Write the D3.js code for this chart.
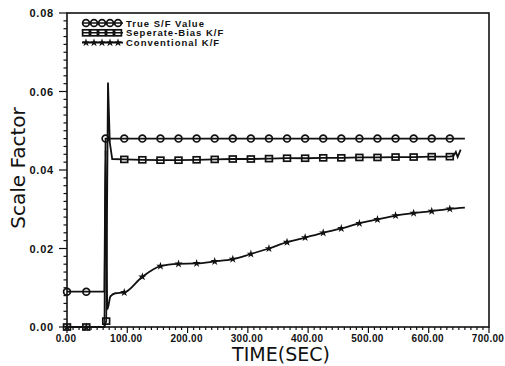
<!DOCTYPE html>
<html>
<head>
<meta charset="utf-8">
<script src="https://cdn.jsdelivr.net/npm/d3@7"></script>
<style>
  body { margin: 0; background: #fff; }
  text { fill: #111; }
</style>
</head>
<body>
<svg id="chart" width="505" height="366"></svg>
<script>
// marker times after the jump (sec)
var markTimes = [95, 125, 155, 185, 215, 245, 275, 305, 335, 365, 395, 425, 455, 485, 515, 545, 575, 605, 635];

var trueVals = [0.048, 0.048, 0.048, 0.048, 0.048, 0.048, 0.048, 0.048, 0.048, 0.048,
                0.048, 0.048, 0.048, 0.048, 0.048, 0.048, 0.048, 0.048, 0.048];
var sepVals  = [0.0427, 0.0426, 0.0425, 0.0425, 0.0426, 0.0427, 0.0428, 0.0428, 0.0429, 0.0430,
                0.0430, 0.0431, 0.0431, 0.0432, 0.0432, 0.0433, 0.0433, 0.0434, 0.0434];
var convVals = [0.0088, 0.0128, 0.0155, 0.0161, 0.0162, 0.0167, 0.0173, 0.0186, 0.0200, 0.0216,
                0.0228, 0.0240, 0.0251, 0.0264, 0.0274, 0.0284, 0.0290, 0.0295, 0.0301];

// start of each run, around the jump at ~63 sec: [t, value, marker]
var trueStart = [[0, 0.009, 1], [32, 0.009, 1], [62, 0.009, 0], [64, 0.048, 1]];
var sepStart  = [[0, 0, 1], [32, 0, 1], [62, 0, 0], [65, 0.0015, 1], [68, 0.0623, 0], [71, 0.047, 0], [75, 0.0428, 0]];
var convStart = [[0, 0, 1], [32, 0, 1], [62, 0, 0], [64, 0.045, 0], [67, 0.0045, 0], [72, 0.0078, 0], [80, 0.0086, 0]];

// end of each run
var trueEnd = [[660, 0.048, 0]];
var sepEnd  = [[641, 0.0436, 0], [645, 0.0446, 0], [648, 0.0433, 0], [653, 0.0452, 0]];
var convEnd = [[660, 0.0304, 0]];

var legendNames = ["True S/F Value", "Seperate-Bias K/F", "Conventional K/F"];
var xTicks = [0, 100, 200, 300, 400, 500, 600, 700];
var yTicks = [0, 0.02, 0.04, 0.06, 0.08];

function buildSeries(start, vals, end) {
  var mid = markTimes.map(function(t, i) { return [t, vals[i], 1]; });
  return start.concat(mid).concat(end);
}

var series = [
  { name: legendNames[0], pts: buildSeries(trueStart, trueVals, trueEnd), mark: "circle", curve: d3.curveLinear },
  { name: legendNames[1], pts: buildSeries(sepStart, sepVals, sepEnd), mark: "square", curve: d3.curveLinear },
  { name: legendNames[2], pts: buildSeries(convStart, convVals, convEnd), mark: "star", curve: d3.curveMonotoneX }
];

var svg = d3.select("#chart");
var x = d3.scaleLinear().domain([0, 700]).range([67, 489]);
var y = d3.scaleLinear().domain([0, 0.08]).range([327, 13]);

var ink = "#111";
var tickFont = "Liberation Sans, Arial, sans-serif";
var titleFont = "DejaVu Sans, sans-serif";

// frame
svg.append("rect")
  .attr("x", x(0)).attr("y", y(0.08))
  .attr("width", x(700) - x(0)).attr("height", y(0) - y(0.08))
  .attr("fill", "none").attr("stroke", ink).attr("stroke-width", 1.6);

// x axis with minor ticks
var xMinor = d3.range(0, 701, 10);
svg.append("g").selectAll("line").data(xMinor).join("line")
  .attr("x1", function(d) { return x(d); }).attr("x2", function(d) { return x(d); })
  .attr("y1", y(0)).attr("y2", function(d) { return y(0) + (d % 100 === 0 ? 6 : 3); })
  .attr("stroke", ink).attr("stroke-width", 1.2);

svg.append("g").selectAll("text").data(xTicks).join("text")
  .attr("x", function(d) { return x(d) - 1; })
  .attr("y", 342)
  .attr("text-anchor", "middle")
  .attr("font-family", tickFont).attr("font-weight", "bold").attr("font-size", 10)
  .attr("letter-spacing", 0.3)
  .text(function(d) { return d3.format(".2f")(d); });

// y axis with minor ticks
var yMinor = d3.range(0, 41).map(function(i) { return i * 0.002; });
svg.append("g").selectAll("line").data(yMinor).join("line")
  .attr("y1", function(d) { return y(d); }).attr("y2", function(d) { return y(d); })
  .attr("x1", x(0)).attr("x2", function(d, i) { return x(0) - (i % 10 === 0 ? 8 : 3.5); })
  .attr("stroke", ink).attr("stroke-width", 1.2);

svg.append("g").selectAll("text").data(yTicks).join("text")
  .attr("x", 54)
  .attr("y", function(d) { return y(d) + 4; })
  .attr("text-anchor", "end")
  .attr("font-family", tickFont).attr("font-weight", "bold").attr("font-size", 11)
  .attr("letter-spacing", 0.8)
  .text(function(d) { return d3.format(".2f")(d); });

// axis titles
svg.append("text")
  .attr("x", 281).attr("y", 361)
  .attr("text-anchor", "middle")
  .attr("font-family", titleFont).attr("font-size", 19)
  .text("TIME(SEC)");

svg.append("text")
  .attr("transform", "translate(25,168) rotate(-90)")
  .attr("text-anchor", "middle")
  .attr("font-family", titleFont).attr("font-size", 20)
  .text("Scale  Factor");

// markers
function drawMarker(g, kind, cx, cy) {
  if (kind === "circle") {
    g.append("circle").attr("cx", cx).attr("cy", cy).attr("r", 3.4)
      .attr("fill", "none").attr("stroke", ink).attr("stroke-width", 1.7);
  } else if (kind === "square") {
    g.append("rect").attr("x", cx - 3.4).attr("y", cy - 3).attr("width", 6.8).attr("height", 6)
      .attr("fill", "none").attr("stroke", ink).attr("stroke-width", 1.7);
  } else {
    g.append("path").attr("transform", "translate(" + cx + "," + cy + ")")
      .attr("d", d3.symbol().type(d3.symbolStar).size(22)())
      .attr("fill", ink);
  }
}

series.forEach(function(s) {
  var g = svg.append("g");
  var line = d3.line()
    .x(function(d) { return x(d[0]); })
    .y(function(d) { return y(d[1]); })
    .curve(s.curve);
  g.append("path").datum(s.pts)
    .attr("d", line)
    .attr("fill", "none").attr("stroke", ink).attr("stroke-width", 1.8);
  s.pts.forEach(function(p) {
    if (p[2]) drawMarker(g, s.mark, x(p[0]), y(p[1]));
  });
});

// legend
var legend = svg.append("g");
series.forEach(function(s, i) {
  var ly = 23 + i * 9.8;
  legend.append("line")
    .attr("x1", 82).attr("x2", 123).attr("y1", ly).attr("y2", ly)
    .attr("stroke", ink).attr("stroke-width", 1.6);
  d3.range(5).forEach(function(k) {
    drawMarker(legend, s.mark, 86 + k * 8, ly);
  });
  legend.append("text")
    .attr("x", 126).attr("y", ly + 3.5)
    .attr("font-family", tickFont).attr("font-weight", "bold").attr("font-size", 9.5)
    .attr("letter-spacing", 1)
    .text(s.name);
});
</script>
</body>
</html>
